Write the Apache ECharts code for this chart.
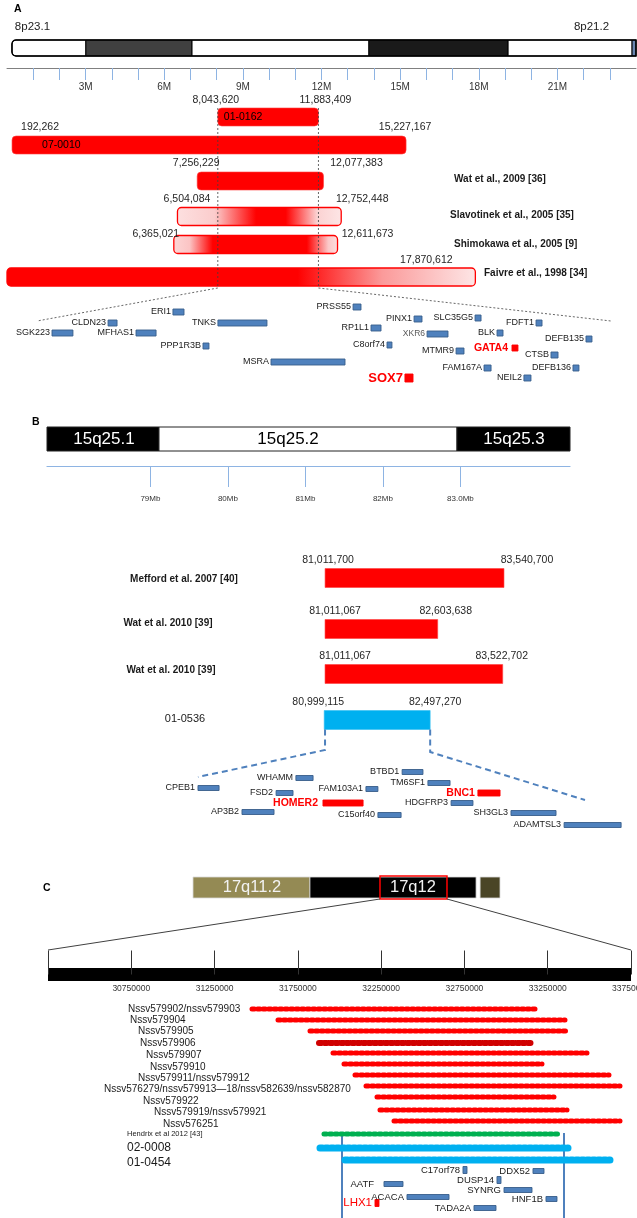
<!DOCTYPE html>
<html>
<head>
<meta charset="utf-8">
<script src="https://cdn.jsdelivr.net/npm/echarts@6/dist/echarts.min.js"></script>
<style>
html, body { margin: 0; padding: 0; background: #fff; }
#chart { width: 637px; height: 1218px; }
</style>
</head>
<body>
<div id="chart"></div>
<script>
// ---------- panel A : 8p23.1 - 8p21.2 ----------
const bandStartA = [190000, 3010000, 7060000, 13810000, 19120000, 23850000]
const bandEndA = [3010000, 7060000, 13810000, 19120000, 23850000, 24000000]
const bandStainA = ['gneg', 'gpos75', 'gneg', 'gpos100', 'gneg', 'edge']
const bandNamesA = ['8p23.1', '8p21.2']
const bandNamePosA = [300000, 21630000]
const tickValuesA = [1, 2, 3, 4, 5, 6, 7, 8, 9, 10, 11, 12, 13, 14, 15, 16, 17, 18, 19, 20, 21, 22, 23].map(v => v * 1e6)
const tickLabelValuesA = [3e6, 6e6, 9e6, 12e6, 15e6, 18e6, 21e6]

const casesA = ['01-0162', '07-0010', 'Wat et al., 2009 [36]', 'Slavotinek et al., 2005 [35]', 'Shimokawa et al., 2005 [9]', 'Faivre et al., 1998 [34]']
const startsA = [8043620, 192262, 7256229, 6504084, 6365021, 0]
const endsA = [11883409, 15227167, 12077383, 12752448, 12611673, 17870612]
const zoomA = [8043620, 11883409]

const genesA = ['SGK223', 'CLDN23', 'ERI1', 'MFHAS1', 'TNKS', 'PPP1R3B', 'MSRA', 'PRSS55', 'PINX1', 'SLC35G5', 'RP1L1', 'XKR6',
  'BLK', 'FDFT1', 'DEFB135', 'C8orf74', 'MTMR9', 'GATA4', 'CTSB', 'FAM167A', 'DEFB136', 'NEIL2', 'SOX7']
const geneStartA = [8144000, 8519000, 8953000, 8706000, 9254000, 9154000, 9609000, 10158000, 10566000, 10974000, 10278000, 10653000,
  11121000, 11382000, 11716000, 10385000, 10847000, 11221000, 11482000, 11034000, 11629000, 11301000, 10505000]
const geneEndA = [8284000, 8579000, 9027000, 8840000, 9582000, 9194000, 10104000, 10211000, 10619000, 11014000, 10345000, 10793000,
  11161000, 11422000, 11756000, 10418000, 10900000, 11261000, 11529000, 11081000, 11669000, 11348000, 10559000]

// ---------- panel B : 15q25 ----------
const bandStartB = [77666000, 79111000, 82956000]
const bandEndB = [79111000, 82956000, 84414000]
const bandNamesB = ['15q25.1', '15q25.2', '15q25.3']
const bandStainB = ['black', 'gneg', 'black']
const bandNamePosB = [78401000, 80776000, 83692000]
const tickValuesB = [79e6, 80e6, 81e6, 82e6, 83e6]

const casesB = ['Mefford et al. 2007 [40]', 'Wat et al. 2010 [39]', 'Wat et al. 2010 [39]', '01-0536']
const startsB = [81011700, 81011067, 81011067, 80999115]
const endsB = [83540700, 82603638, 83522702, 82497270]
const zoomB = [81011067, 82497270]

const genesB = ['CPEB1', 'WHAMM', 'FSD2', 'AP3B2', 'HOMER2', 'FAM103A1', 'C15orf40', 'BTBD1', 'TM6SF1', 'BNC1', 'HDGFRP3', 'SH3GL3', 'ADAMTSL3']
const geneStartB = [81011000, 81387000, 81311000, 81180000, 81491000, 81656000, 81702000, 81795000, 81894000, 82086000, 81983000, 82213000, 82417000]
const geneEndB = [81092000, 81453000, 81376000, 81303000, 81645000, 81702000, 81791000, 81875000, 81979000, 82171000, 82067000, 82386000, 82636000]

// ---------- panel C : 17q12 ----------
const bandStartC = [20480000, 26590000, 35480000]
const bandEndC = [26590000, 35270000, 36520000]
const bandNamesC = ['17q11.2', '17q12', '']
const bandStainC = ['olive', 'black', 'darkolive']
const bandNamePosC = [23560000, 31970000, 0]
const zoomC = [30250000, 33750000]
const tickValuesC = [30250000, 30750000, 31250000, 31750000, 32250000, 32750000, 33250000, 33750000]
const tickLabelValuesC = [30750000, 31250000, 31750000, 32250000, 32750000, 33250000, 33750000]

const casesC = ['Nssv579902/nssv579903', 'Nssv579904', 'Nssv579905', 'Nssv579906', 'Nssv579907', 'Nssv579910',
  'Nssv579911/nssv579912', 'Nssv576279/nssv579913—18/nssv582639/nssv582870', 'Nssv579922', 'Nssv579919/nssv579921',
  'Nssv576251', 'Hendrix et al 2012 [43]', '02-0008', '01-0454']
const startsC = [31462700, 31618800, 31810900, 31864900, 31949000, 32015000, 32081000, 32147100, 32213100, 32231100, 32315200, 31894900, 31870900, 32021000]
const endsC = [33185700, 33365800, 33383800, 33167700, 33497800, 33227700, 33629900, 33696000, 33299700, 33377800, 33696000, 33335700, 33383800, 33635900]
const boundsC = [32015000, 33347800]

const genesC = ['C17orf78', 'DDX52', 'DUSP14', 'AATF', 'SYNRG', 'ACACA', 'HNF1B', 'LHX1', 'TADA2A']
const geneStartC = [32741400, 33161600, 32945500, 32267100, 32987600, 32405200, 33239700, 32213100, 32807400]
const geneEndC = [32765400, 33227700, 32969500, 32381200, 33155600, 32657400, 33305700, 32237100, 32939500]

// ---------- layout (px offsets, not data) ----------
const FONT = '"Liberation Sans", Arial, sans-serif'
const f = (size, bold) => (bold ? 'bold ' : '') + size + 'px ' + FONT

const grids = [
  { left: 7, width: 629, top: 40, height: 28 },      // A ideogram + axis
  { left: 7, width: 629, top: 95, height: 200 },     // A bars
  { left: 37, width: 574, top: 290, height: 100 },   // A genes
  { left: 47, width: 523, top: 427, height: 39 },    // B ideogram + axis
  { left: 100, width: 500, top: 540, height: 200 },  // B bars
  { left: 198, width: 387, top: 760, height: 75 },   // B genes
  { left: 193, width: 307, top: 870, height: 35 },   // C ideogram
  { left: 48, width: 583, top: 940, height: 34.5 },  // C scale
  { left: 48, width: 583, top: 1000, height: 218 }   // C tracks
]

const rowYA = [22, 50, 86, 121.5, 149.5, 182]
const innerDxA = [6, 30, null, null, null, null]
const nameXA = [null, null, 454, 450, 454, 484]
const nameDyA = [0, 0, -2, -1.5, 0, -4]
const startDxA = [-2, 28, -1, 9.5, -18, null]
const endDxA = [7, -1, 33, 21, 30, -49]
const labelDyA = [-17, -18, -18, -17.5, -10.5, -17]
const barKindA = ['solid', 'solid', 'solid', 'slav', 'shim', 'faivre']
const geneTrackA = [43, 33, 22, 43, 33, 56, 72, 17, 29, 28, 38, 44, 43, 33, 49, 55, 61, 58, 65, 78, 78, 88, 88]

const rowYB = [38, 89, 134, 180]
const nameXB = [184, 168, 171, 185]
const nameDyB = [1, -6, -4, -1]
const startDxB = [3, 10, 20, -6]
const endDxB = [23, 8, -1, 5]
const geneTrackB = [28, 18, 33, 52, 43, 29, 55, 12, 23, 33, 43, 53, 65]

const rowYC = [9, 20, 31, 43, 53, 64, 75, 86, 97, 110, 121, 134, 148, 160]
const nameXC = [128, 130, 138, 140, 146, 150, 138, 104, 143, 154, 163, 127, 127, 127]
const nameDyC = [0, 0, 0, 0, 2, 3, 3, 3, 4, 2, 3, 0, 0, 3]
const rowKindC = ['red', 'red', 'red', 'dark', 'red', 'red', 'red', 'red', 'red', 'red', 'red', 'green', 'blue', 'blue']
const geneTrackC = [170, 171, 180, 184, 190, 197, 199, 203, 208]

const stainColor = { gneg: '#ffffff', gpos75: '#404040', gpos100: '#1a1a1a', edge: '#6a87b0', black: '#000000', olive: '#948a54', darkolive: '#4a4526' }
const grad = stops => new echarts.graphic.LinearGradient(0, 0, 1, 0, stops.map(s => ({ offset: s[0], color: s[1] })))
const barFillA = {
  solid: '#ff0000',
  slav: grad([[0, '#fde0e0'], [0.23, '#fbcccc'], [0.48, '#ff0000'], [0.66, '#ff0000'], [0.85, '#fbd2d2'], [1, '#fde6e6']]),
  shim: grad([[0, '#fcd6d6'], [0.1, '#fbc4c4'], [0.24, '#ff0000'], [0.81, '#ff0000'], [0.94, '#fbc8c8'], [1, '#fde0e0']]),
  faivre: grad([[0, '#ff0000'], [0.62, '#ff0000'], [0.8, '#fb9a9a'], [1, '#fde6e6']])
}
const rowStyleC = {
  red: { stroke: '#ff0000', lineWidth: 5 },
  dark: { stroke: '#d00000', lineWidth: 6 },
  green: { stroke: '#00b050', lineWidth: 5 },
  blue: { stroke: '#00b0f0', lineWidth: 7 }
}
const fmt = v => v.toLocaleString('en-US')
// plain text element, no outline
const label = (text, x, y, font, fill, align) => ({
  type: 'text', x, y, z2: 10,
  style: { text, font, fill, align: align || 'center', verticalAlign: 'middle', stroke: null, lineWidth: 0, opacity: 1 }
})

// ---------- series builders ----------
function ideogram(grid, starts, ends, stains, h, names, namePos, labelStyle) {
  return {
    type: 'custom', xAxisIndex: grid, yAxisIndex: grid,
    data: starts.map((s, i) => [s, ends[i], i]),
    renderItem(params, api) {
      const i = api.value(2)
      const a = api.coord([api.value(0), h[0]]), b = api.coord([api.value(1), h[1]])
      const kids = [{
        type: 'rect',
        shape: { x: a[0], y: a[1], width: b[0] - a[0], height: b[1] - a[1], r: (grid === 0 && i === 0) ? [4, 0, 0, 4] : 0 },
        style: { fill: stainColor[stains[i]], stroke: labelStyle.stroke, lineWidth: labelStyle.lineWidth }
      }]
      if (names && names[i]) {
        const p = api.coord([namePos[i], (h[0] + h[1]) / 2])
        kids.push(label(names[i], p[0], p[1], labelStyle.font, stains[i] === 'gneg' ? '#000' : labelStyle.fill))
      }
      return { type: 'group', children: kids }
    }
  }
}

function genes(grid, names, starts, ends, tracks, opts) {
  return {
    type: 'custom', xAxisIndex: grid, yAxisIndex: grid,
    data: names.map((n, i) => [starts[i], ends[i], tracks[i], i]),
    renderItem(params, api) {
      const i = api.value(3), t = api.value(2)
      const a = api.coord([api.value(0), t]), b = api.coord([api.value(1), t])
      const st = Object.assign({}, opts.normal, opts.special[names[i]] || {})
      return {
        type: 'group', children: [
          { type: 'rect', shape: { x: a[0], y: a[1] - st.h / 2, width: Math.max(b[0] - a[0], 4), height: st.h }, style: { fill: st.box, stroke: st.boxStroke, lineWidth: 0.9 } },
          label(names[i], a[0] - st.gap, a[1], st.font, st.color, 'right')
        ]
      }
    }
  }
}

const blueGene = { h: 6, box: '#4f81bd', boxStroke: '#385d8a', color: '#1a1a1a', gap: 2 }
const redGene = { box: '#ff0000', boxStroke: '#ff0000', color: '#ff0000' }

const hiddenX = (grid, min, max) => ({ type: 'value', gridIndex: grid, min, max, show: false })

const option = {
  animation: false,
  grid: grids.map(g => Object.assign({ containLabel: false, outerBoundsMode: 'none' }, g)),
  xAxis: [
    {
      type: 'value', gridIndex: 0, min: 0, max: 24000000, position: 'bottom',
      axisLine: { show: true, onZero: false, lineStyle: { color: '#808080', width: 1 } },
      axisTick: { show: true, customValues: tickValuesA, length: 12, lineStyle: { color: '#8eb4e3', width: 1 } },
      axisLabel: { show: true, customValues: tickLabelValuesA, formatter: v => v / 1e6 + 'M', fontSize: 10, fontFamily: FONT, color: '#333', margin: 14 },
      splitLine: { show: false }
    },
    hiddenX(1, 0, 24000000),
    hiddenX(2, zoomA[0], zoomA[1]),
    {
      type: 'value', gridIndex: 3, min: 77666000, max: 84414000, position: 'bottom',
      axisLine: { show: true, onZero: false, lineStyle: { color: '#8eb4e3', width: 1.2 } },
      axisTick: { show: true, customValues: tickValuesB, length: 21, lineStyle: { color: '#8eb4e3', width: 1 } },
      axisLabel: { show: true, customValues: tickValuesB, formatter: v => v === 83e6 ? '83.0Mb' : v / 1e6 + 'Mb', fontSize: 8, fontFamily: FONT, color: '#333', margin: 29 },
      splitLine: { show: false }
    },
    hiddenX(4, 77830000, 84898000),
    hiddenX(5, zoomB[0], zoomB[1]),
    hiddenX(6, 20480000, 36520000),
    {
      type: 'value', gridIndex: 7, min: zoomC[0], max: zoomC[1], position: 'bottom',
      axisLine: { show: true, onZero: false, lineStyle: { color: '#000', width: 13, cap: 'butt' } },
      axisTick: { show: true, inside: true, customValues: tickValuesC, length: 24, lineStyle: { color: '#333', width: 1 } },
      axisLabel: { show: true, customValues: tickLabelValuesC, formatter: v => String(v), fontSize: 8.5, fontFamily: FONT, color: '#333', margin: 10 },
      splitLine: { show: false }
    },
    hiddenX(8, zoomC[0], zoomC[1])
  ],
  yAxis: grids.map((g, i) => ({ type: 'value', gridIndex: i, min: 0, max: g.height, inverse: true, show: false })),
  series: [
    // A ideogram
    ideogram(0, bandStartA, bandEndA, bandStainA, [0, 16], null, null, { stroke: '#000', lineWidth: 1 }),
    {
      type: 'custom', xAxisIndex: 0, yAxisIndex: 0,
      data: [[bandStartA[0], bandEndA[bandEndA.length - 1]]],
      renderItem(params, api) {
        const a = api.coord([api.value(0), 0]), b = api.coord([api.value(1), 16])
        return { type: 'rect', shape: { x: a[0], y: a[1], width: b[0] - a[0], height: b[1] - a[1], r: [4, 0, 0, 4] }, style: { fill: null, stroke: '#000', lineWidth: 1.5 } }
      }
    },
    {
      type: 'custom', xAxisIndex: 0, yAxisIndex: 0,
      data: bandNamesA.map((n, i) => [bandNamePosA[i], i]),
      renderItem(params, api) {
        const p = api.coord([api.value(0), 0])
        return label(bandNamesA[api.value(1)], p[0], p[1] - 13, f(11.5), '#222', 'left')
      }
    },
    // A bars
    {
      type: 'custom', xAxisIndex: 1, yAxisIndex: 1, z: 2,
      data: casesA.map((n, i) => [startsA[i], endsA[i], rowYA[i], i]),
      renderItem(params, api) {
        const i = api.value(3), y = api.value(2)
        const a = api.coord([api.value(0), y]), b = api.coord([api.value(1), y])
        const kind = barKindA[i]
        const kids = [{
          type: 'rect', shape: { x: a[0], y: a[1] - 9, width: b[0] - a[0], height: 18, r: 4 },
          style: { fill: barFillA[kind], stroke: kind === 'solid' ? '#ff4040' : '#ff0000', lineWidth: kind === 'solid' ? 0.6 : 1.3 }
        }]
        if (startDxA[i] !== null) kids.push(label(fmt(startsA[i]), a[0] + startDxA[i], a[1] + labelDyA[i], f(10.5), '#262626'))
        kids.push(label(fmt(endsA[i]), b[0] + endDxA[i], a[1] + labelDyA[i], f(10.5), '#262626'))
        if (nameXA[i] !== null) kids.push(label(casesA[i], nameXA[i], a[1] + nameDyA[i], f(10, true), '#1a1a1a', 'left'))
        return { type: 'group', children: kids }
      }
    },
    // A case ids written inside their bars (own series, drawn above the bars)
    {
      type: 'custom', xAxisIndex: 1, yAxisIndex: 1, z: 5,
      data: casesA.map((n, i) => [startsA[i], rowYA[i], i]).filter(d => innerDxA[d[2]] !== null),
      renderItem(params, api) {
        const i = api.value(2)
        const a = api.coord([api.value(0), api.value(1)])
        return { type: 'text', x: a[0] + innerDxA[i], y: a[1], silent: true, style: { text: casesA[i], font: f(10.5), fill: '#000000', align: 'left', verticalAlign: 'middle' } }
      }
    },
    // A genes
    genes(2, genesA, geneStartA, geneEndA, geneTrackA, {
      normal: Object.assign({ font: f(9) }, blueGene),
      special: {
        GATA4: Object.assign({ font: f(10.5, true), gap: 4 }, redGene),
        SOX7: Object.assign({ font: f(13, true), h: 8 }, redGene),
        XKR6: { font: f(8.5), color: '#595959' }
      }
    }),
    // B ideogram
    ideogram(3, bandStartB, bandEndB, bandStainB, [0, 24], bandNamesB, bandNamePosB, { stroke: '#222', lineWidth: 1, font: f(17), fill: '#fff' }),
    // B bars
    {
      type: 'custom', xAxisIndex: 4, yAxisIndex: 4,
      data: casesB.map((n, i) => [startsB[i], endsB[i], rowYB[i], i]),
      renderItem(params, api) {
        const i = api.value(3), y = api.value(2)
        const a = api.coord([api.value(0), y]), b = api.coord([api.value(1), y])
        const blue = i === casesB.length - 1
        return {
          type: 'group', children: [
            { type: 'rect', shape: { x: a[0], y: a[1] - 9.5, width: b[0] - a[0], height: 19 }, style: { fill: blue ? '#00b0f0' : '#ff0000', stroke: blue ? '#33c0f3' : '#ff4040', lineWidth: 0.6 } },
            label(fmt(startsB[i]), a[0] + startDxB[i], a[1] - 17.5, f(10.5), '#262626'),
            label(fmt(endsB[i]), b[0] + endDxB[i], a[1] - 17.5, f(10.5), '#262626'),
            label(casesB[i], nameXB[i], a[1] + nameDyB[i], blue ? f(11) : f(10, true), '#1a1a1a')
          ]
        }
      }
    },
    // B genes
    genes(5, genesB, geneStartB, geneEndB, geneTrackB, {
      normal: Object.assign({ font: f(9) }, blueGene, { h: 5, gap: 3 }),
      special: {
        HOMER2: Object.assign({ font: f(10.5, true), gap: 5, h: 6 }, redGene),
        BNC1: Object.assign({ font: f(10.5, true), gap: 3, h: 6 }, redGene)
      }
    }),
    // C ideogram
    ideogram(6, bandStartC, bandEndC, bandStainC, [7, 28], bandNamesC, bandNamePosC, { stroke: '#d9d9d9', lineWidth: 0.8, font: f(16.5), fill: '#f2f2f2' }),
    {
      type: 'custom', xAxisIndex: 6, yAxisIndex: 6,
      data: [[zoomC[0], zoomC[1]]],
      renderItem(params, api) {
        const a = api.coord([api.value(0), 6]), b = api.coord([api.value(1), 29])
        return { type: 'rect', shape: { x: a[0], y: a[1], width: b[0] - a[0], height: b[1] - a[1] }, style: { fill: null, stroke: '#ff0000', lineWidth: 1.5 } }
      }
    },
    // C region boundaries
    {
      type: 'custom', xAxisIndex: 8, yAxisIndex: 8,
      data: boundsC.map(v => [v]),
      renderItem(params, api) {
        const a = api.coord([api.value(0), 133]), b = api.coord([api.value(0), 218])
        return { type: 'line', shape: { x1: a[0], y1: a[1], x2: b[0], y2: b[1] }, style: { stroke: '#4f81bd', lineWidth: 2 } }
      }
    },
    // C CNV tracks
    {
      type: 'custom', xAxisIndex: 8, yAxisIndex: 8,
      data: casesC.map((n, i) => [startsC[i], endsC[i], rowYC[i], i]),
      renderItem(params, api) {
        const i = api.value(3), y = api.value(2)
        const a = api.coord([api.value(0), y]), b = api.coord([api.value(1), y])
        const st = rowStyleC[rowKindC[i]]
        const fs = i === 11 ? 7.5 : (i > 11 ? 12 : 10)
        return {
          type: 'group', children: [
            { type: 'line', shape: { x1: a[0] + 2, y1: a[1], x2: b[0] - 2, y2: b[1] }, style: { stroke: st.stroke, lineWidth: st.lineWidth, lineDash: [2.5, 3], lineCap: 'round' } },
            label(casesC[i], nameXC[i], a[1] + nameDyC[i], f(fs), '#1a1a1a', 'left')
          ]
        }
      }
    },
    // C genes
    genes(8, genesC, geneStartC, geneEndC, geneTrackC, {
      normal: Object.assign({ font: f(9.5) }, blueGene, { h: 5, gap: 3 }),
      special: {
        AATF: { gap: 10 },
        C17orf78: { h: 7 },
        DUSP14: { h: 7 },
        LHX1: Object.assign({ font: f(11.5), gap: 3, h: 7 }, redGene)
      }
    })
  ]
}

const chart = echarts.init(document.getElementById('chart'))
chart.setOption(option)

// connector lines between the zoomed regions, placed through the grids' own scales
const P = (g, x, y) => chart.convertToPixel({ gridIndex: g }, [x, y])
const dottedA = { stroke: '#404040', lineWidth: 0.8, lineDash: [2, 2], fill: null }
const dashedB = { stroke: '#4f81bd', lineWidth: 2, lineDash: [6, 4], fill: null }
const solidC = { stroke: '#404040', lineWidth: 1, fill: null }
const letter = (t, x, y) => ({ type: 'text', x, y, style: { text: t, font: f(10.5, true), fill: '#000' }, z: 100 })
chart.setOption({
  graphic: [
    letter('A', 14, 4),
    letter('B', 32, 417),
    letter('C', 43, 883),
    { type: 'polyline', z: 100, shape: { points: [P(1, zoomA[0], rowYA[0] - 9), P(1, zoomA[0], 193), P(2, zoomA[0], 31)] }, style: dottedA },
    { type: 'polyline', z: 100, shape: { points: [P(1, zoomA[1], rowYA[0] - 9), P(1, zoomA[1], 193), P(2, zoomA[1], 31)] }, style: dottedA },
    { type: 'polyline', z: 100, shape: { points: [P(4, zoomB[0], rowYB[3] + 9.5), P(4, zoomB[0], 210), P(5, zoomB[0], 17)] }, style: dashedB },
    { type: 'polyline', z: 100, shape: { points: [P(4, zoomB[1], rowYB[3] + 9.5), P(4, zoomB[1], 212), P(5, zoomB[1], 40)] }, style: dashedB },
    { type: 'polyline', z: 100, shape: { points: [P(6, zoomC[0], 29), P(7, zoomC[0], 10)] }, style: solidC },
    { type: 'polyline', z: 100, shape: { points: [P(6, zoomC[1], 29), P(7, zoomC[1], 10)] }, style: solidC }
  ]
})
window.addEventListener('resize', function () {
  chart.resize()
})
</script>
</body>
</html>
